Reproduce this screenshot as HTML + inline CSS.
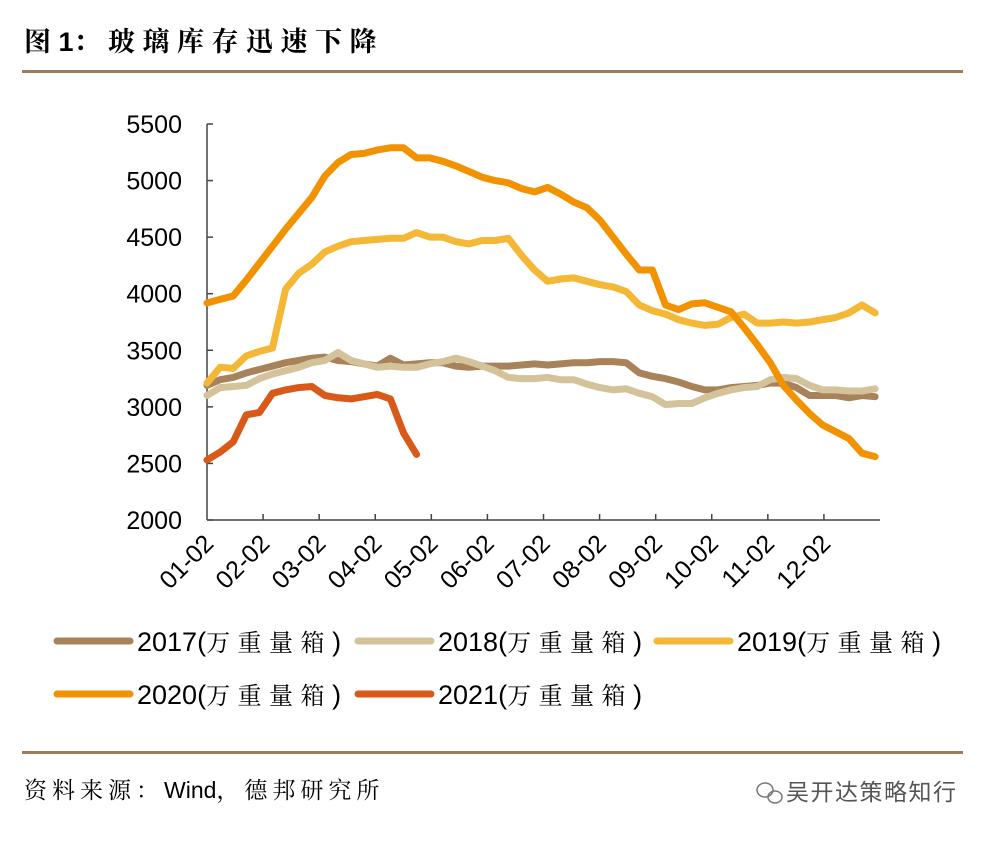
<!DOCTYPE html>
<html><head><meta charset="utf-8"><style>
body{margin:0;background:#fff;width:991px;height:837px;overflow:hidden;font-family:"Liberation Sans","Noto Sans CJK SC",sans-serif}
</style></head><body>
<svg id="c" width="991" height="837" xmlns="http://www.w3.org/2000/svg">
<text x="24" y="51" font-size="27" font-weight="bold" font-family="'Liberation Sans','Noto Serif CJK SC',serif"><tspan>图 1</tspan><tspan letter-spacing="7.5">：玻璃库存迅速下降</tspan></text>
<rect x="22" y="70" width="941" height="3" fill="#a07d5a"/>
<rect x="22" y="751" width="941" height="3" fill="#a07d5a"/>
<text x="24" y="798" font-size="23" font-family="'Liberation Sans','Noto Serif CJK SC',serif"><tspan letter-spacing="5">资料来源：</tspan><tspan>Wind</tspan><tspan letter-spacing="5">，德邦研究所</tspan></text>
<g fill="none" stroke="#777" stroke-width="1.5">
<ellipse cx="765" cy="790" rx="8" ry="7"/><ellipse cx="775" cy="797" rx="7" ry="6"/>
</g>
<text x="786" y="800" font-size="23" letter-spacing="1.5" fill="#555" font-family="'Liberation Sans','Noto Sans CJK SC',sans-serif">吴开达策略知行</text>
<g id="plot"></g>
</svg>
<script>
const months=["01-02","02-02","03-02","04-02","05-02","06-02","07-02","08-02","09-02","10-02","11-02","12-02"];
const yTicks=[2000,2500,3000,3500,4000,4500,5000,5500];
const s2017=[3190,3240,3260,3300,3330,3360,3390,3410,3430,3440,3410,3400,3380,3360,3430,3370,3380,3390,3390,3360,3350,3360,3360,3360,3370,3380,3370,3380,3390,3390,3400,3400,3390,3300,3270,3250,3220,3180,3150,3150,3170,3180,3190,3210,3210,3170,3100,3100,3100,3080,3100,3090];
const s2018=[3100,3170,3180,3190,3250,3290,3320,3350,3390,3410,3480,3410,3380,3350,3360,3350,3350,3380,3400,3430,3400,3360,3320,3260,3250,3250,3260,3240,3240,3200,3170,3150,3160,3120,3090,3020,3030,3030,3080,3120,3150,3170,3180,3240,3260,3250,3190,3150,3150,3140,3140,3160];
const s2019=[3210,3350,3340,3450,3490,3520,4040,4180,4260,4370,4420,4460,4470,4480,4490,4490,4540,4500,4500,4460,4440,4470,4470,4490,4340,4210,4110,4130,4140,4110,4080,4060,4020,3900,3850,3820,3770,3740,3720,3730,3790,3820,3740,3740,3750,3740,3750,3770,3790,3830,3900,3830];
const s2020=[3918,3950,3980,4120,4270,4420,4570,4710,4850,5040,5160,5230,5240,5270,5290,5290,5200,5200,5170,5130,5080,5030,5000,4980,4930,4900,4940,4880,4810,4760,4650,4500,4350,4210,4210,3900,3860,3910,3920,3880,3840,3700,3550,3390,3190,3060,2940,2840,2780,2720,2590,2560];
const s2021=[2530,2600,2690,2930,2950,3120,3150,3170,3180,3100,3080,3070,3090,3110,3070,2770,2580];
const seriesYears=["2017","2018","2019","2020","2021"];
const unit="(万重量箱)";
const colors=["#a8835a","#d4c29b","#f4b736","#f39200","#d95a18"];
const all=[s2017,s2018,s2019,s2020,s2021];
const NS="http://www.w3.org/2000/svg";
const g=document.getElementById('plot');
const X0=207,X1=880,Y0=520,Y1=124;
const yScale=v=>Y0-(v-2000)/3500*(Y0-Y1);
const xWeek=i=>X0+i*13.1;
const xMonth=m=>X0+m*(X1-X0)/12;
function el(t,a,p){const e=document.createElementNS(NS,t);for(const k in a)e.setAttribute(k,a[k]);(p||g).appendChild(e);return e;}
let ax=el('line',{x1:X0,y1:Y1,x2:X0,y2:Y0,stroke:'#444','stroke-width':1.5});


let bx=el('line',{x1:X0,y1:Y0,x2:X1,y2:Y0,stroke:'#444','stroke-width':1.5});


yTicks.forEach(v=>{
  const y=yScale(v);
  let t=el('line',{x1:X0,y1:y,x2:X0+6,y2:y,stroke:'#444','stroke-width':1.5});
  
  
  let l=el('text',{x:182,y:y+9,'text-anchor':'end','font-size':25});
  l.textContent=v;
  
  
});
months.forEach((m,i)=>{
  const x=xMonth(i);
  if(i>0){let t=el('line',{x1:x,y1:Y0,x2:x,y2:Y0-6,stroke:'#444','stroke-width':1.5});
  
  }
  let l=el('text',{x:x+8,y:Y0+25,'text-anchor':'end','font-size':25,transform:`rotate(-45 ${x+8} ${Y0+25})`});
  l.textContent=m;
  
  
});
all.forEach((s,k)=>{
  const d=s.map((v,i)=>(i?'L':'M')+xWeek(i).toFixed(1)+','+yScale(v).toFixed(1)).join('');
  let p=el('path',{d:d,fill:'none',stroke:colors[k],'stroke-width':7,'stroke-linejoin':'round','stroke-linecap':'round'});
  
  
});
const legPos=[[57,641],[358,641],[657,641],[57,694],[358,694]];
seriesYears.forEach((n,k)=>{
  const [x,y]=legPos[k];
  let ln=el('line',{x1:x,y1:y,x2:x+73,y2:y,stroke:colors[k],'stroke-width':7,'stroke-linecap':'round'});
  
  
  let t=el('text',{x:x+80,y:y+10,'font-size':27,'font-family':"'Liberation Sans','Noto Serif CJK SC',serif"});
  
  
  let a=el('tspan',{},t); a.textContent=n+"(";
  let b=el('tspan',{'font-size':24,'letter-spacing':7.5},t); b.textContent=unit.slice(1,5);
  let c=el('tspan',{},t); c.textContent=")";
});
</script>
</body></html>
